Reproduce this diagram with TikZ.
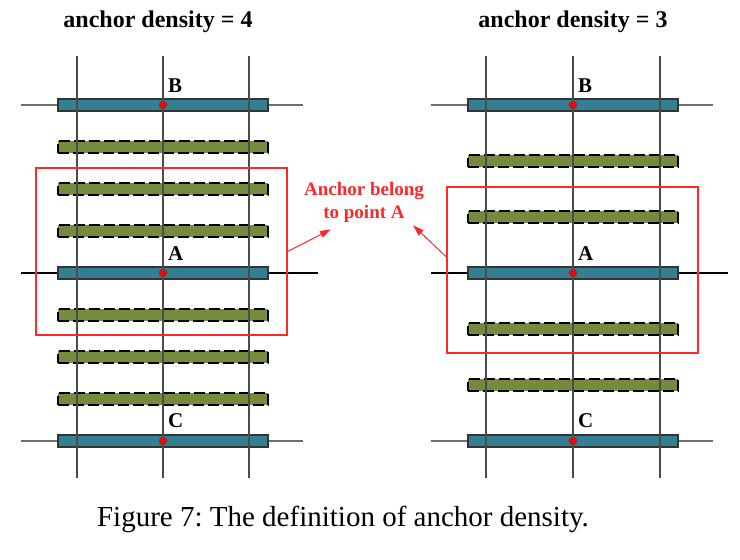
\documentclass[tikz,border=0pt]{standalone}
\usepackage{fontspec}
\setmainfont{Liberation Serif}
\usetikzlibrary{arrows.meta,positioning,calc}
\definecolor{bblue}{RGB}{52,127,148}
\definecolor{bgreen}{RGB}{118,138,62}
\definecolor{bred}{RGB}{255,40,40}
\definecolor{gline}{RGB}{75,75,75}
\tikzset{
  anchorbar/.style={rectangle,draw=black!80,line width=1.2pt,fill=bblue,
    minimum width=210pt,minimum height=12pt,inner sep=0pt},
  candbar/.style={rectangle,draw=black,line width=1.8pt,dash pattern=on 11pt off 4pt,
    fill=bgreen,minimum width=210pt,minimum height=12pt,inner sep=0pt},
  gridln/.style={draw=gline,line width=1.6pt},
  hline/.style={draw=#1,line width=1.4pt},
  ptdot/.style={circle,draw=black!70,fill=red,minimum size=8pt,inner sep=0pt,line width=0.6pt},
  lbl/.style={font=\fontsize{21}{21}\selectfont\bfseries,inner sep=0pt,anchor=south west},
  ttl/.style={font=\fontsize{24}{28}\selectfont\bfseries,inner sep=0pt},
  zone/.style={rectangle,draw=bred,line width=1.2pt,inner sep=0pt},
  arr/.style={-{Triangle[length=11pt,width=7pt]},draw=bred,line width=1pt},
}
\frenchspacing

\begin{document}
\begin{tikzpicture}[x=1pt,y=-1pt]
  \useasboundingbox (0,0) rectangle (740,560);

  % titles
  \node[ttl] (t4) at (158,22) {anchor density = 4};
  \node[ttl] (t3) at (573,22) {anchor density = 3};

  % left panel: density 4
  \foreach \i in {0,...,8} {
    \ifnum\i=0 \node[anchorbar] (L\i) at (163,105+42*\i) {};
    \else\ifnum\i=4 \node[anchorbar] (L\i) at (163,105+42*\i) {};
    \else\ifnum\i=8 \node[anchorbar] (L\i) at (163,105+42*\i) {};
    \else \node[candbar] (L\i) at (163,105+42*\i) {};
    \fi\fi\fi
  }
  \foreach \dx in {-86,0,86}
    \draw[gridln] (163+\dx,56) -- (163+\dx,478);
  \draw[hline=gline!80] ([xshift=-36pt]L0.west) -- (L0.west) (L0.east) -- ([xshift=34pt]L0.east);
  \draw[hline=black] ([xshift=-36pt]L4.west) -- (L4.west) (L4.east) -- ([xshift=49pt]L4.east);
  \draw[hline=gline!80] ([xshift=-36pt]L8.west) -- (L8.west) (L8.east) -- ([xshift=34pt]L8.east);

  % right panel: density 3
  \foreach \i in {0,...,6} {
    \ifnum\i=0 \node[anchorbar] (R\i) at (573,105+56*\i) {};
    \else\ifnum\i=3 \node[anchorbar] (R\i) at (573,105+56*\i) {};
    \else\ifnum\i=6 \node[anchorbar] (R\i) at (573,105+56*\i) {};
    \else \node[candbar] (R\i) at (573,105+56*\i) {};
    \fi\fi\fi
  }
  \foreach \dx in {-87,0,87}
    \draw[gridln] (573+\dx,56) -- (573+\dx,478);
  \draw[hline=gline!80] ([xshift=-36pt]R0.west) -- (R0.west) (R0.east) -- ([xshift=34pt]R0.east);
  \draw[hline=black] ([xshift=-36pt]R3.west) -- (R3.west) (R3.east) -- ([xshift=49pt]R3.east);
  \draw[hline=gline!80] ([xshift=-36pt]R6.west) -- (R6.west) (R6.east) -- ([xshift=34pt]R6.east);

  % points and labels
  \foreach \p/\t in {L0/B,L4/A,L8/C,R0/B,R3/A,R6/C} {
    \node[ptdot] (d\p) at (\p.center) {};
    \node[lbl] (l\p) at ($(\p.north)+(5,-6)$) {\t};
  }

  % anchor zones
  \node[zone,minimum width=251pt,minimum height=167pt] (zoneL) at (161.5,251.5) {};
  \node[zone,minimum width=251pt,minimum height=166pt] (zoneR) at (572.5,270) {};

  \node[text=bred,font=\fontsize{19}{23}\selectfont\bfseries,align=center,inner sep=0pt]
    (note) at (364,202) {Anchor belong\\to point A};
  \draw[arr] (zoneL.east) -- ($(note.south west)+(27,7)$);
  \draw[arr] ([yshift=13pt]zoneR.west) -- ($(note.south east)+(-11,3)$);

  % caption
  \node[font=\fontsize{29}{33}\selectfont,inner sep=0pt] (cap) at (343,519)
    {Figure 7: The definition of anchor density.};
\end{tikzpicture}
\end{document}
